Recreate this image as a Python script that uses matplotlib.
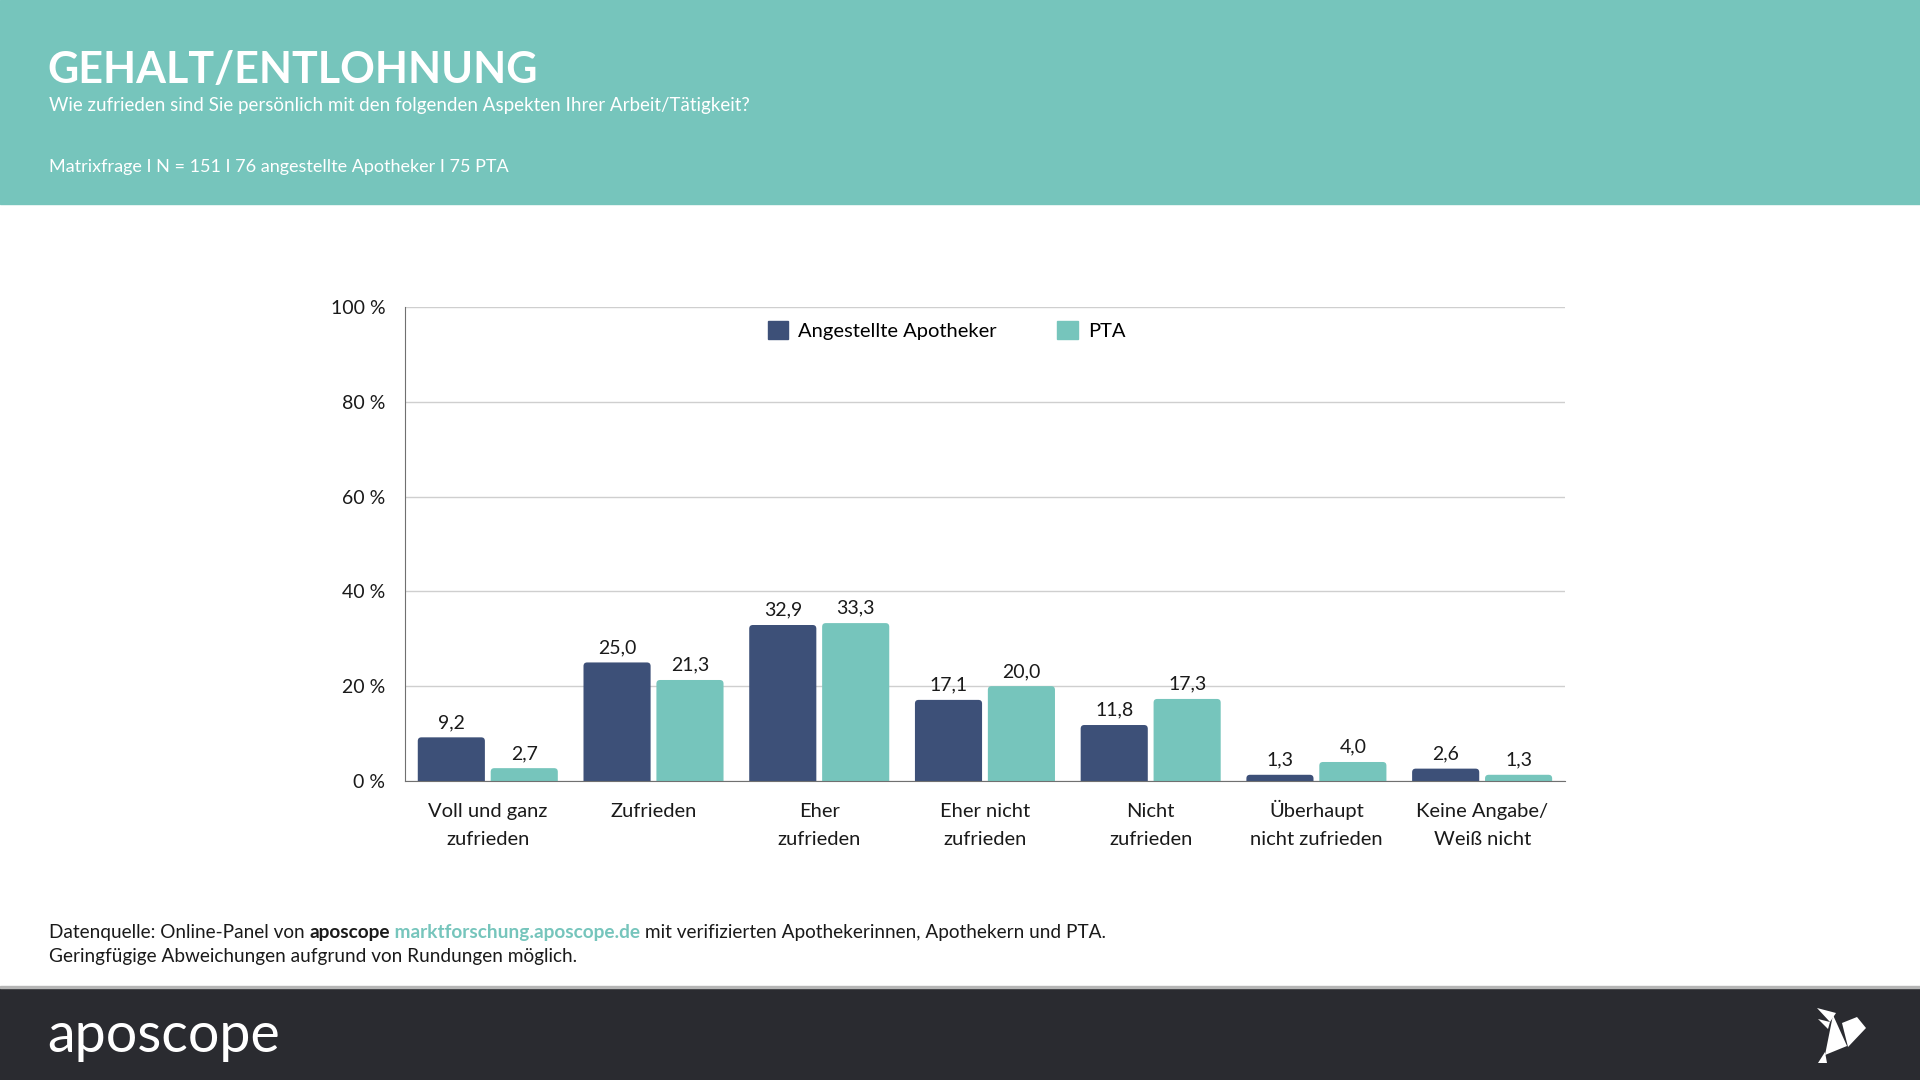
import matplotlib.pyplot as plt
from matplotlib.patches import Rectangle, Polygon, FancyBboxPatch, Patch
import numpy as np

plt.rcParams['font.family'] = ['Lato', 'DejaVu Sans']

# DATA
categories = ["Voll und ganz\nzufrieden", "Zufrieden", "Eher\nzufrieden", "Eher nicht\nzufrieden",
              "Nicht\nzufrieden", "Überhaupt\nnicht zufrieden", "Keine Angabe/\nWeiß nicht"]
apotheker = [9.2, 25.0, 32.9, 17.1, 11.8, 1.3, 2.6]
pta = [2.7, 21.3, 33.3, 20.0, 17.3, 4.0, 1.3]
series_names = ["Angestellte Apotheker", "PTA"]
yticks = [0, 20, 40, 60, 80, 100]

TEAL = "#76C5BC"
NAVY = "#3D5078"
DARK = "#2A2B30"
TXT = "#1a1a1a"

fig = plt.figure(figsize=(19.2, 10.8), dpi=100)
bg = fig.add_axes([0, 0, 1, 1])
bg.set_xlim(0, 1)
bg.set_ylim(0, 1)
bg.axis("off")

# header / footer bands
bg.add_patch(Rectangle((0, 0.811), 1, 0.189, color=TEAL, zorder=0))
bg.add_patch(Rectangle((0, 0), 1, 0.0852, color=DARK, zorder=0))
bg.add_patch(Rectangle((0, 0.0852), 1, 0.0022, color="#b5b5b5", zorder=0))

bg.text(0.0245, 0.935, "GEHALT/ENTLOHNUNG", color="white", fontsize=31, fontweight="bold", va="center")
bg.text(0.0255, 0.902, "Wie zufrieden sind Sie persönlich mit den folgenden Aspekten Ihrer Arbeit/Tätigkeit?",
        color="white", fontsize=13.5, va="center")
bg.text(0.0255, 0.845, "Matrixfrage I N = 151 I 76 angestellte Apotheker I 75 PTA",
        color="white", fontsize=13, va="center")

# footer source text, chained pieces
fs = 13.7
t = bg.text(0.0255, 0.137, "Datenquelle: Online-Panel von ", color=TXT, fontsize=fs, va="center")
t = bg.annotate("aposcope", xy=(1, 0), xycoords=t, va="bottom", ha="left", color=TXT,
                fontsize=fs, fontweight="bold")
t = bg.annotate(" marktforschung.aposcope.de", xy=(1, 0), xycoords=t, va="bottom", ha="left",
                color=TEAL, fontsize=fs, fontweight="bold")
bg.annotate(" mit verifizierten Apothekerinnen, Apothekern und PTA.", xy=(1, 0), xycoords=t,
            va="bottom", ha="left", color=TXT, fontsize=fs)
bg.text(0.0255, 0.114, "Geringfügige Abweichungen aufgrund von Rundungen möglich.", color=TXT,
        fontsize=fs, va="center")

# logo
bg.text(0.0245, 0.040, "aposcope", color="white", fontsize=40, va="center")
bird = [
    [(1817, 1008), (1836, 1013), (1830, 1022)],
    [(1818, 1019), (1830, 1022), (1828, 1029)],
    [(1833, 1015), (1847, 1046), (1825, 1055)],
    [(1842, 1023), (1857, 1017), (1866, 1028), (1848, 1047)],
    [(1825, 1052), (1827, 1063), (1818, 1063)],
]
for tri in bird:
    pts = [(x / 1920, 1 - y / 1080) for x, y in tri]
    bg.add_patch(Polygon(pts, closed=True, color="white", lw=0))

# chart
ax = fig.add_axes([0.2109, 0.2769, 0.6042, 0.4389])
x = np.arange(len(categories))
w = 0.405
off = 0.22
ax.set_xlim(-0.5, len(categories) - 0.5)
ax.set_ylim(0, 100)

b1 = ax.bar(x - off, apotheker, w, color=NAVY, zorder=3)
b2 = ax.bar(x + off, pta, w, color=TEAL, zorder=3)
# swap plain bars for ones with slightly rounded tops
for bars, col in ((b1, NAVY), (b2, TEAL)):
    for r in bars:
        r.set_visible(False)
        fb = FancyBboxPatch((r.get_x(), -3), r.get_width(), r.get_height() + 3,
                            boxstyle="round,pad=0,rounding_size=0.022", mutation_aspect=35,
                            fc=col, ec="none", zorder=3)
        ax.add_patch(fb)

for bars, vals in ((b1, apotheker), (b2, pta)):
    for r, v in zip(bars, vals):
        ax.annotate(f"{v:.1f}".replace(".", ","), (r.get_x() + r.get_width() / 2, v),
                    xytext=(0, 4.5), textcoords="offset points", ha="center", va="bottom",
                    fontsize=14, color=TXT)

ax.set_yticks(yticks)
ax.set_yticklabels([f"{v} %" for v in yticks], fontsize=14, color=TXT)
ax.set_xticks(x)
# every label gets two lines so the first lines share one baseline
xlabels = [c if "\n" in c else c + "\n" for c in categories]
ax.set_xticklabels(xlabels, fontsize=14.5, color=TXT, linespacing=1.8, va="baseline")
ax.tick_params(length=0, axis="y", pad=14)
ax.tick_params(length=0, axis="x", pad=46)
ax.grid(axis="y", color="#cfcfcf", lw=1, zorder=0)
for s in ("top", "right"):
    ax.spines[s].set_visible(False)
ax.spines["left"].set_color("#707070")
ax.spines["bottom"].set_color("#707070")
ax.spines["bottom"].set_zorder(4)

handles = [Patch(color=NAVY), Patch(color=TEAL)]
ax.legend(handles, series_names, loc="center", bbox_to_anchor=(0.467, 0.951), ncol=2, frameon=False,
          fontsize=14.5, handlelength=1.0, handleheight=1.0, handletextpad=0.5, columnspacing=3.0)

fig.savefig("out.png", dpi=100)
